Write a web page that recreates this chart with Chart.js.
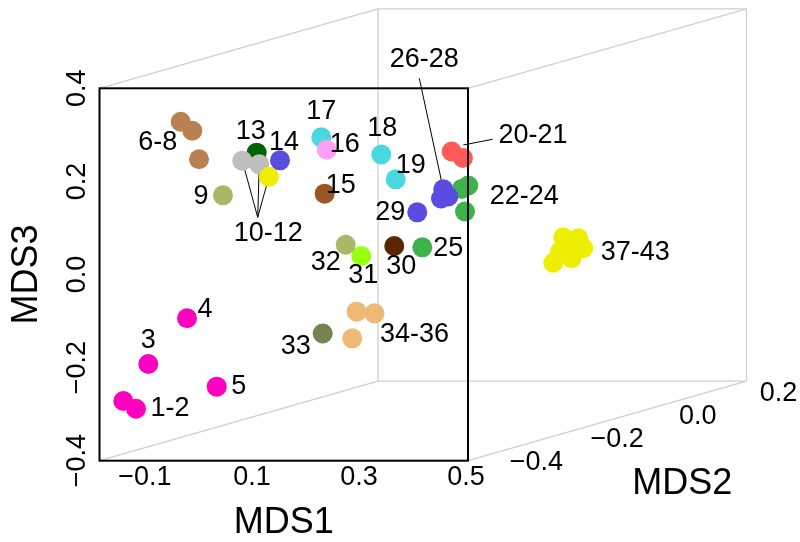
<!DOCTYPE html>
<html>
<head>
<meta charset="utf-8">
<script src="https://cdn.jsdelivr.net/npm/chart.js@4/dist/chart.umd.min.js"></script>
<style>
  html, body { margin: 0; padding: 0; background: #fff; }
  #wrap { width: 800px; height: 542px; }
</style>
</head>
<body>
<div id="wrap"><canvas id="c" width="800" height="542"></canvas></div>
<script>
// ---- DATA (apparent position of each sample on the MDS1–MDS3 front plane of the 3-D box) ----
const sampleIds = [1,2,3,4,5,6,7,8,9,10,11,12,13,14,15,16,17,18,19,20,21,22,23,24,25,26,27,28,29,30,31,32,33,34,35,36,37,38,39,40,41,42,43];
const projMDS1 = [-0.1405,-0.1168,-0.0938,-0.0214,0.0341,-0.0332,-0.0115,0.0010,0.0458,0.0819,
                  0.1137,0.1318,0.1088,0.1524,0.2359,0.2397,0.2296,0.3417,0.3686,0.4733,
                  0.4944,0.5043,0.4920,0.4982,0.4184,0.4576,0.4670,0.4533,0.4090,0.3660,
                  0.3043,0.2752,0.2322,0.2957,0.3290,0.2875,0.6632,0.6757,0.6819,0.6913,
                  0.6976,0.7100,0.7193];
const projMDS3 = [-0.2717,-0.2883,-0.1923,-0.0941,-0.2410,0.3282,0.3089,0.2475,0.1701,0.2445,
                  0.2367,0.2101,0.2617,0.2453,0.1736,0.2681,0.2947,0.2578,0.2045,0.2642,
                  0.2503,0.1912,0.1837,0.1353,0.0584,0.1830,0.1676,0.1633,0.1336,0.0612,
                  0.0397,0.0640,-0.1267,-0.0799,-0.0834,-0.1371,0.0253,0.0490,0.0799,0.0597,
                  0.0348,0.0778,0.0563];
const mds1Ticks = [-0.1, 0.1, 0.3, 0.5];
const mds3Ticks = [-0.4, -0.2, 0.0, 0.2, 0.4];
const mds2Ticks = [-0.4, -0.2, 0.0, 0.2];
const mds1Range = [-0.185, 0.5038];
const mds3Range = [-0.4, 0.4];
const mds2Range = [-0.49, 0.2];
const drawOrder = [1,2,3,4,5,6,7,8,9,13,10,11,12,14,15,17,16,18,19,20,21,22,23,24,25,26,27,28,29,30,31,32,33,34,35,36,37,38,39,40,41,42,43];

// ---- STYLE ----
const pointColors = ['#FF00C0','#FF00C0','#FF00C0','#FF00C0','#FF00C0','#B98052','#B98052','#B98052','#A8B965','#BEBEBE',
                     '#BEBEBE','#EEEE00','#006400','#5A4BE1','#9C5424','#FFA0F5','#48D8E0','#48D8E0','#48D8E0','#FF5959',
                     '#FF5959','#3CB44B','#3CB44B','#3CB44B','#3CB44B','#5A4BE1','#5A4BE1','#5A4BE1','#5A4BE1','#5A2500',
                     '#99FF11','#A8B965','#748450','#EDB974','#EDB974','#EDB974','#EEEE00','#EEEE00','#EEEE00','#EEEE00',
                     '#EEEE00','#EEEE00','#EEEE00'];
// depth of the box (MDS2 from front to back) expressed as a shift in front-plane units
const depthShift = { x: 0.5206, y: 0.1708 };
const FONT = '"Liberation Sans", Arial, Helvetica, sans-serif';
const TICK_SIZE = 27, TITLE_SIZE = 36;
// text labels: offsets in px from the anchor sample
const pointLabels = [
  {text:'1-2', at:2, dx:34, dy:0},
  {text:'3', at:3, dx:0, dy:-23},
  {text:'4', at:4, dx:18, dy:-9},
  {text:'5', at:5, dx:22, dy:0},
  {text:'6-8', at:6, dx:-23, dy:21},
  {text:'9', at:9, dx:-22, dy:1},
  {text:'10-12', at:11, dx:9, dy:69, leader:{from:[-1.6,53], to:[10,11,12]}},
  {text:'13', at:13, dx:-6, dy:-21},
  {text:'14', at:14, dx:4, dy:-18},
  {text:'15', at:15, dx:16, dy:-8},
  {text:'16', at:16, dx:18, dy:-5},
  {text:'17', at:17, dx:0, dy:-26},
  {text:'18', at:18, dx:1, dy:-26},
  {text:'19', at:19, dx:15, dy:-14},
  {text:'20-21', at:21, dx:70, dy:-22, leader:{from:[29.7,-18.7], toOffset:[0.3,-13]}},
  {text:'22-24', at:22, dx:56, dy:11},
  {text:'25', at:25, dx:26, dy:1},
  {text:'26-28', at:26, dx:-19, dy:-130, leader:{from:[-24,-111], to:[26]}},
  {text:'29', at:29, dx:-27, dy:0},
  {text:'30', at:30, dx:7, dy:21},
  {text:'31', at:31, dx:2, dy:20},
  {text:'32', at:32, dx:-20, dy:18},
  {text:'33', at:33, dx:-27, dy:13},
  {text:'34-36', at:35, dx:40, dy:21},
  {text:'37-43', at:43, dx:52, dy:4}
];

const fmt = v => (v < 0 ? '\u2212' : '') + Math.abs(v).toFixed(1);
const idx = id => sampleIds.indexOf(id);

const points = drawOrder.map(id => ({ x: projMDS1[idx(id)], y: projMDS3[idx(id)] }));
const colors = drawOrder.map(id => pointColors[idx(id)]);

function px(chart, xv, yv) {
  return [chart.scales.x.getPixelForValue(xv), chart.scales.y.getPixelForValue(yv)];
}
function samplePx(chart, id) {
  const i = idx(id);
  return px(chart, projMDS1[i], projMDS3[i]);
}

let savedArea = null;
const boxPlugin = {
  id: 'box3d',
  beforeDatasetsDraw(chart) {
    const ctx = chart.ctx;
    const [x0, x1] = mds1Range, [y0, y1] = mds3Range;
    const sx = depthShift.x, sy = depthShift.y;
    ctx.save();
    ctx.strokeStyle = '#CFCFCF';
    ctx.lineWidth = 1.3;
    const seg = (a, b) => { ctx.beginPath(); ctx.moveTo(a[0], a[1]); ctx.lineTo(b[0], b[1]); ctx.stroke(); };
    const F = { tl: px(chart, x0, y1), tr: px(chart, x1, y1), bl: px(chart, x0, y0), br: px(chart, x1, y0) };
    const B = { tl: px(chart, x0+sx, y1+sy), tr: px(chart, x1+sx, y1+sy), bl: px(chart, x0+sx, y0+sy), br: px(chart, x1+sx, y0+sy) };
    seg(B.tl, B.tr); seg(B.tr, B.br); seg(B.br, B.bl); seg(B.bl, B.tl);
    seg(F.tl, B.tl); seg(F.tr, B.tr); seg(F.bl, B.bl); seg(F.br, B.br);
    // leader lines
    ctx.strokeStyle = '#000';
    ctx.lineWidth = 1;
    pointLabels.forEach(l => {
      if (!l.leader) return;
      const a = samplePx(chart, l.at);
      const from = [a[0] + l.leader.from[0], a[1] + l.leader.from[1]];
      if (l.leader.to) l.leader.to.forEach(id => seg(from, samplePx(chart, id)));
      if (l.leader.toOffset) seg(from, [a[0] + l.leader.toOffset[0], a[1] + l.leader.toOffset[1]]);
    });
    ctx.restore();
    // points lie inside the whole 3-D box, not only the front face: widen the drawable area
    savedArea = chart.chartArea;
    chart.chartArea = { left: 0, top: 0, right: chart.width, bottom: chart.height, width: chart.width, height: chart.height };
  },
  afterDatasetsDraw(chart) {
    if (savedArea) { chart.chartArea = savedArea; savedArea = null; }
    const ctx = chart.ctx;
    const [x0, x1] = mds1Range, [y0, y1] = mds3Range;
    const sx = depthShift.x, sy = depthShift.y;
    ctx.save();
    // front face
    const tl = px(chart, x0, y1), br = px(chart, x1, y0);
    ctx.strokeStyle = '#000';
    ctx.lineWidth = 2;
    ctx.strokeRect(tl[0], tl[1], br[0] - tl[0], br[1] - tl[1]);
    // point labels
    ctx.fillStyle = '#000';
    ctx.font = TICK_SIZE + 'px ' + FONT;
    ctx.textAlign = 'center';
    ctx.textBaseline = 'middle';
    pointLabels.forEach(l => {
      const a = samplePx(chart, l.at);
      ctx.fillText(l.text, a[0] + l.dx, a[1] + l.dy);
    });
    // MDS2 axis along the bottom-right depth edge
    const span = mds2Range[1] - mds2Range[0];
    mds2Ticks.forEach(v => {
      const t = (v - mds2Range[0]) / span;
      const p = px(chart, x1 + t * sx, y0 + t * sy);
      ctx.fillText(fmt(v), p[0] + 32, p[1] + 12);
    });
    const mid = px(chart, x1 + 0.5 * sx, y0 + 0.5 * sy);
    ctx.font = TITLE_SIZE + 'px ' + FONT;
    ctx.fillText('MDS2', mid[0] + 75, mid[1] + 63);
    ctx.restore();
  }
};

new Chart(document.getElementById('c'), {
  type: 'scatter',
  data: {
    datasets: [{
      data: points,
      pointRadius: 10,
      pointHoverRadius: 10,
      pointBorderWidth: 0,
      pointBackgroundColor: colors,
      pointBorderColor: colors,
      clip: false
    }]
  },
  options: {
    responsive: false,
    animation: false,
    events: [],
    layout: { padding: { left: 0, right: 332, top: 88.3, bottom: 0 } },
    plugins: { legend: { display: false }, tooltip: { enabled: false } },
    scales: {
      x: {
        type: 'linear',
        min: mds1Range[0], max: mds1Range[1],
        afterBuildTicks: s => { s.ticks = mds1Ticks.map(v => ({ value: v })); },
        afterFit: s => { s.height = 81.3; },
        grid: { display: false, drawTicks: false },
        border: { display: false },
        ticks: { color: '#000', font: { family: FONT, size: TICK_SIZE }, padding: 1, maxRotation: 0, minRotation: 0, autoSkip: false, callback: v => fmt(v) },
        title: { display: true, text: 'MDS1', color: '#000', font: { family: FONT, size: TITLE_SIZE, lineHeight: 1 }, padding: { top: 0, bottom: 0.5 } }
      },
      y: {
        type: 'linear',
        min: mds3Range[0], max: mds3Range[1],
        afterBuildTicks: s => { s.ticks = mds3Ticks.map(v => ({ value: v })); },
        afterFit: s => { s.width = 99.5; },
        grid: { display: false, drawTicks: false },
        border: { display: false },
        ticks: { color: '#000', font: { family: FONT, size: TICK_SIZE }, padding: -4.6, minRotation: 90, maxRotation: 90, crossAlign: 'center', autoSkip: false, callback: v => fmt(v) },
        title: { display: true, text: 'MDS3', color: '#000', font: { family: FONT, size: TITLE_SIZE, lineHeight: 1 }, padding: { top: 9.5, bottom: 0 } }
      }
    }
  },
  plugins: [boxPlugin]
});
</script>
</body>
</html>
